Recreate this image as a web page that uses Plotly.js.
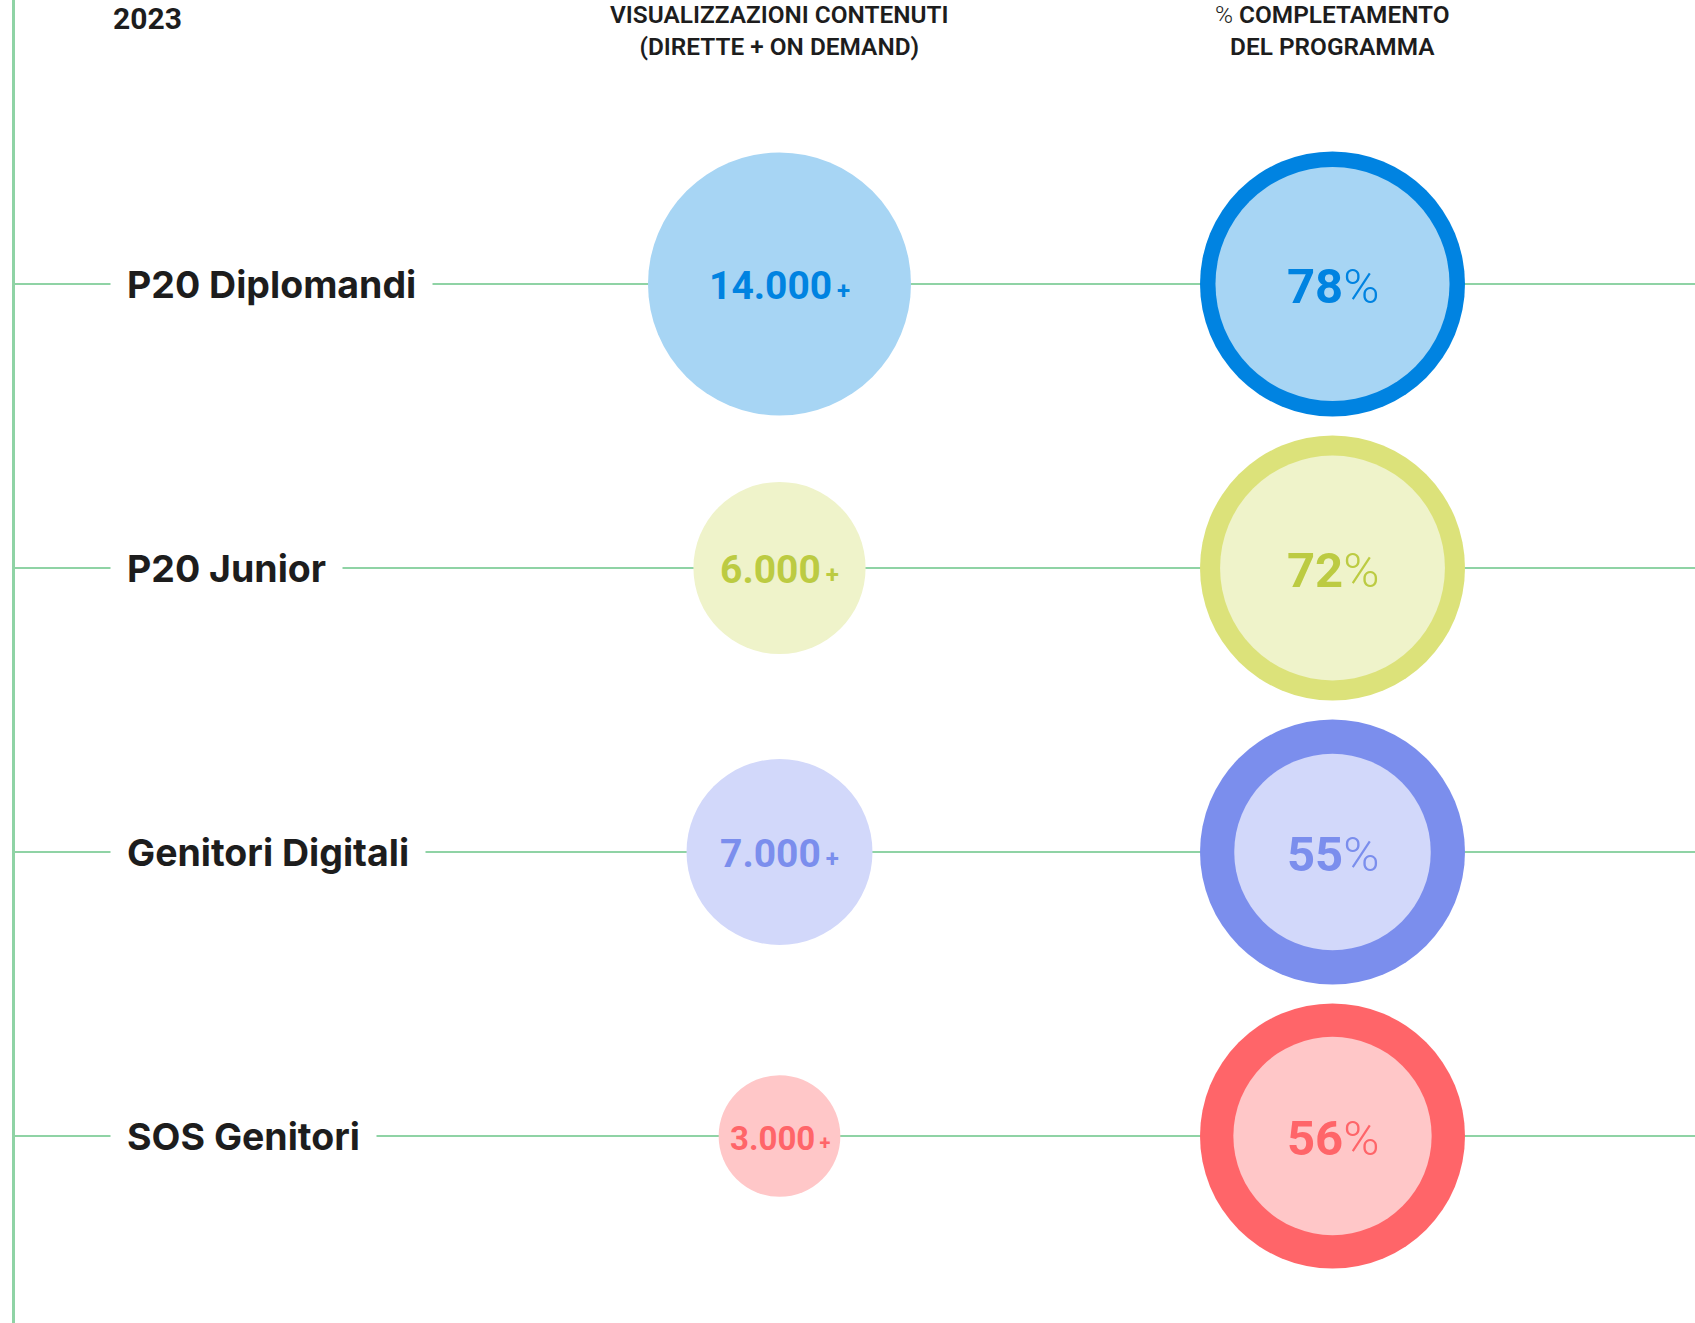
<!DOCTYPE html>
<html>
<head>
<meta charset="utf-8">
<script src="https://cdn.plot.ly/plotly-3.0.1.min.js"></script>
<style>
  html, body { margin: 0; padding: 0; background: #ffffff; }
  #chart { width: 1695px; height: 1323px; }
</style>
</head>
<body>
<div id="chart"></div>
<script>
// ---- data ----
const year = '2023';
const programs = ['P20 Diplomandi', 'P20 Junior', 'Genitori Digitali', 'SOS Genitori'];
const views = [14000, 6000, 7000, 3000];           // visualizzazioni contenuti (+)
const completion = [78, 72, 55, 56];               // % completamento del programma
const columns = ['VISUALIZZAZIONI CONTENUTI<br>(DIRETTE + ON DEMAND)',
                 '<span style="font-weight:300">%</span> COMPLETAMENTO<br>DEL PROGRAMMA'];

// ---- styles ----
const ringColors  = ['#0083e1', '#dce27a', '#7b8eed', '#ff6569'];
const lightColors = ['#a7d5f4', '#eff3ca', '#d2d8fa', '#ffc7c8'];
const textColors  = ['#0083e1', '#bccb42', '#7b8eed', '#ff6569'];
const numSizes    = [39, 39, 39, 33];
const plusSizes   = [24, 24, 24, 20];
const lineColor = '#8fd3a5';
const W = 1695, H = 1323;

const colViews = programs.map(() => columns[0]);
const colPct = programs.map(() => columns[1]);
const full = programs.map(() => 100);

const viewsRef = 2 * 14000 / (263 * 263);
const pctRef = 2 * 100 / (265 * 265);

const traces = [
  {
    type: 'scatter', mode: 'markers',
    x: colViews, y: programs,
    marker: { size: views, sizemode: 'area', sizeref: viewsRef, color: lightColors, line: { width: 0 }, opacity: 1 },
    hoverinfo: 'skip', showlegend: false
  },
  {
    type: 'scatter', mode: 'markers',
    x: colPct, y: programs,
    marker: { size: full, sizemode: 'area', sizeref: pctRef, color: ringColors, line: { width: 0 }, opacity: 1 },
    hoverinfo: 'skip', showlegend: false
  },
  {
    type: 'scatter', mode: 'markers',
    x: colPct, y: programs,
    marker: { size: completion, sizemode: 'area', sizeref: pctRef, color: lightColors, line: { width: 0 }, opacity: 1 },
    hoverinfo: 'skip', showlegend: false
  }
];

function fmtThousands(v) {
  return String(v).replace(/\B(?=(\d{3})+(?!\d))/g, '.');
}

const colStep = 553, col0 = 779.5;
const rowStep = 284, row0 = 284;

const shapes = [
  { type: 'line', xref: 'paper', yref: 'paper', x0: 13.5 / W, x1: 13.5 / W, y0: 0, y1: 1,
    line: { color: lineColor, width: 3 }, layer: 'below' }
].concat(programs.map(p => ({
  type: 'line', xref: 'paper', yref: 'y', x0: 13.5 / W, x1: 1, y0: p, y1: p,
  line: { color: lineColor, width: 2 }, layer: 'below'
})));

const numFont = 'Roboto, Arial, sans-serif';

const annotations = [
  { text: '<b>' + year + '</b>', xref: 'paper', yref: 'paper', x: 111 / W, y: 1 - 18 / H,
    xanchor: 'left', yanchor: 'middle', showarrow: false,
    font: { family: numFont, size: 30, color: '#1d1d1d' } }
].concat(columns.map(c => ({
  text: c, xref: 'x', yref: 'paper', x: c, y: 1, yanchor: 'top', xanchor: 'center', yshift: 2,
  showarrow: false, align: 'center',
  font: { family: numFont, size: 24.4, weight: 600, color: '#1d1d1d' }
}))).concat(programs.map(p => ({
  text: p, xref: 'paper', yref: 'y', x: 110 / W, y: p, xanchor: 'left', yanchor: 'middle',
  showarrow: false, bgcolor: '#ffffff', borderpad: 16, borderwidth: 1, bordercolor: 'rgba(0,0,0,0)',
  font: { family: 'Inter, Roboto, sans-serif', size: 37.5, weight: 700, color: '#1d1d1d' }
}))).concat(programs.map((p, i) => ({
  text: '<b>' + fmtThousands(views[i]) + '</b><span style="font-size:' + plusSizes[i] + 'px"><b>\u2009+</b></span>',
  xref: 'x', yref: 'y', x: columns[0], y: p, xanchor: 'center', yanchor: 'middle', yshift: -2,
  showarrow: false,
  font: { family: numFont, size: numSizes[i], color: textColors[i] }
}))).concat(programs.map((p, i) => ({
  text: '<b>' + completion[i] + '</b>%',
  xref: 'x', yref: 'y', x: columns[1], y: p, xanchor: 'center', yanchor: 'middle', yshift: -2,
  showarrow: false,
  font: { family: numFont, size: 49, weight: 300, color: textColors[i] }
})));

const layout = {
  width: W, height: H,
  margin: { l: 0, r: 0, t: 0, b: 0, pad: 0 },
  paper_bgcolor: '#ffffff', plot_bgcolor: '#ffffff',
  showlegend: false,
  xaxis: {
    type: 'category', categoryorder: 'array', categoryarray: columns,
    range: [-col0 / colStep, (W - col0) / colStep],
    showticklabels: false, showgrid: false, zeroline: false, showline: false, ticks: '', fixedrange: true
  },
  yaxis: {
    type: 'category', categoryorder: 'array', categoryarray: programs,
    range: [(H - row0) / rowStep, -row0 / rowStep],
    showticklabels: false, showgrid: false, zeroline: false, showline: false, ticks: '', fixedrange: true
  },
  shapes: shapes,
  annotations: annotations
};

Plotly.newPlot('chart', traces, layout, { staticPlot: true, displayModeBar: false });
</script>
</body>
</html>
